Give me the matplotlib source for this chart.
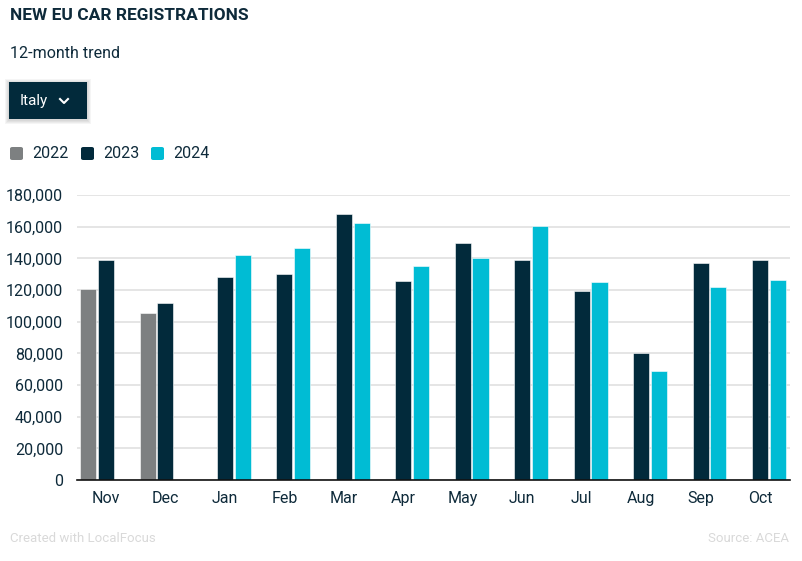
import numpy as np
import matplotlib.pyplot as plt
from matplotlib.patches import FancyBboxPatch, Rectangle
from matplotlib.lines import Line2D

months = ["Nov", "Dec", "Jan", "Feb", "Mar", "Apr", "May", "Jun", "Jul", "Aug", "Sep", "Oct"]
years = ["2022", "2023", "2024"]
values_2022 = [120500, 105300, None, None, None, None, None, None, None, None, None, None]
values_2023 = [139200, 111500, 128100, 130400, 168200, 125800, 149500, 139100, 119500, 80000, 136900, 139200]
values_2024 = [None, None, 142400, 146800, 162000, 135000, 139900, 160400, 124900, 68900, 121800, 126400]
colors = ["#7d8081", "#022a3b", "#00bcd4"]

TEXT = "#0e2a3a"
plt.rcParams["font.family"] = ["Roboto", "DejaVu Sans"]


def main() -> None:
    fig = plt.figure(figsize=(8.03, 5.61), dpi=100)
    ax = fig.add_axes([77 / 803, 81 / 561, 713 / 803, 285 / 561])

    x = np.arange(len(months))
    step = 0.297
    width = 0.27
    for i, (year, vals) in enumerate(zip(years, [values_2022, values_2023, values_2024])):
        xs = [xi + (i - 1) * step for xi, v in zip(x, vals) if v is not None]
        ys = [v for v in vals if v is not None]
        ax.bar(xs, ys, width=width, color=colors[i], edgecolor="#ffffff",
               linewidth=0.4, zorder=3, label=year)

    ax.set_xlim(-0.487, 11.5)
    ax.set_ylim(0, 180000)
    ax.set_yticks(np.arange(0, 180001, 20000))
    ax.set_yticklabels([f"{v:,}" for v in range(0, 180001, 20000)])
    ax.set_xticks(x)
    ax.set_xticklabels(months)
    ax.tick_params(axis="both", length=0, labelsize=11.5, colors=TEXT)
    ax.tick_params(axis="y", pad=10)
    ax.tick_params(axis="x", pad=8)
    ax.grid(axis="y", color="#e3e3e3", linewidth=1.3, zorder=0)
    ax.set_axisbelow(True)
    for s in ["top", "right", "left"]:
        ax.spines[s].set_visible(False)
    ax.spines["bottom"].set_color("#111111")
    ax.spines["bottom"].set_linewidth(1.2)
    ax.spines["bottom"].set_zorder(4)

    # header texts
    fig.text(10 / 803, 1 - 16 / 561, "NEW EU CAR REGISTRATIONS", fontsize=12.5,
             fontweight="bold", color=TEXT, va="center", ha="left")
    fig.text(10 / 803, 1 - 54 / 561, "12-month trend", fontsize=11.5,
             color=TEXT, va="center", ha="left")

    # dropdown button with soft shadow
    for k in range(1, 5):
        fig.patches.append(Rectangle(((9 - k) / 803, 1 - (119 + k + 1) / 561),
                                     (78 + 2 * k) / 803, (37 + 2 * k) / 561,
                                     transform=fig.transFigure, color="#000000",
                                     alpha=0.04, lw=0))
    fig.patches.append(Rectangle((9 / 803, 1 - 119 / 561), 78 / 803, 37 / 561,
                                 transform=fig.transFigure, color="#022a3b", lw=0))
    fig.text(20 / 803, 1 - 101 / 561, "Italy", fontsize=11, color="white",
             va="center", ha="left")
    fig.lines.append(Line2D([60 / 803, 64 / 803, 68 / 803],
                            [1 - 99 / 561, 1 - 103 / 561, 1 - 99 / 561],
                            transform=fig.transFigure, color="white", lw=1.5))

    # legend
    lx = [10, 81, 151]
    for xpos, year, c in zip(lx, years, colors):
        fig.patches.append(FancyBboxPatch((xpos / 803, 1 - 160 / 561), 13 / 803, 13 / 561,
                                          boxstyle="round,pad=0,rounding_size=0.003",
                                          transform=fig.transFigure, color=c, lw=0))
        fig.text((xpos + 22) / 803, 1 - 153 / 561, year, fontsize=11.5, color=TEXT,
                 va="center", ha="left")

    # footer
    fig.text(10 / 803, 1 - 538 / 561, "Created with LocalFocus", fontsize=9.5,
             color="#d9d9d9", va="center", ha="left")
    fig.text(789 / 803, 1 - 538 / 561, "Source: ACEA", fontsize=9.5,
             color="#d9d9d9", va="center", ha="right")

    fig.savefig("out.png", dpi=100)


if __name__ == "__main__":
    main()
